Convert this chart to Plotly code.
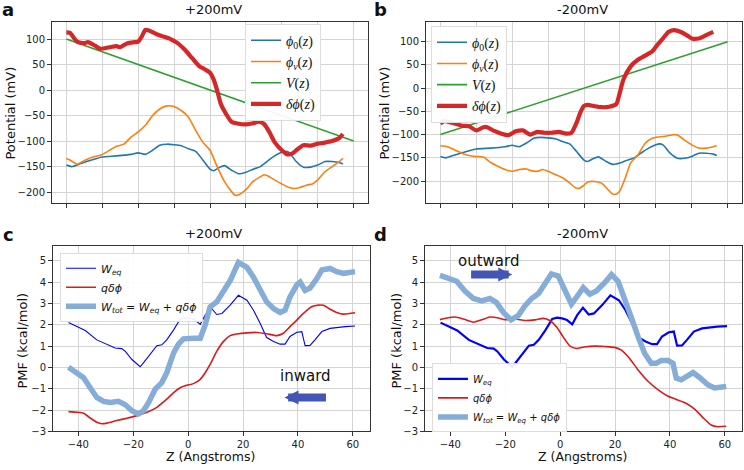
import plotly.graph_objects as go

# ---- panels a / b : potentials (mV) vs grid position ----
x_phi0 = [0, 1.5, 4, 7, 10, 14, 18, 20, 22, 24, 26, 28, 30, 32, 34, 36, 38, 40, 41, 42.5, 44, 46, 48, 50,
          52, 54, 56, 58, 60, 61, 62, 64, 66, 68, 70, 72, 74, 76, 77]
phi0 = [-147, -150, -144, -137, -131, -129, -126, -123, -126, -118, -108, -106, -107, -109, -115, -120, -137,
        -155, -158, -152, -148, -157, -164, -161, -155, -150, -139, -129, -122, -120, -122, -140, -151, -151,
        -147, -140, -140, -142, -145]

x_phiv_a = [0, 1, 3, 5, 7, 10, 12, 14, 16, 18, 20, 22, 24, 26, 28, 30, 32, 34, 36, 38, 40, 42, 44, 46, 47,
            48, 50, 52, 54, 55, 56, 58, 60, 62, 63.5, 65, 67, 68.5, 70, 72, 74, 76, 77]
phiv_a = [-134, -137, -145, -138, -132, -126, -118, -110, -106, -92, -82, -69, -50, -37, -31, -32, -40, -53,
          -79, -102, -118, -150, -179, -199, -206, -205, -195, -179, -170, -166, -168, -176, -184, -191, -193,
          -191, -186, -184, -176, -160, -150, -140, -134]

x_v = [0, 80]
v_a = [100, -100]
v_b = [-100, 100]

x_dphi_a = [0, 1, 3, 5, 6, 8, 9.5, 12, 14, 15, 17, 19, 20, 21, 22, 23, 25, 27, 29, 31, 33, 35, 37, 38.5, 40,
            41, 42, 43, 44.5, 46, 48, 50, 52, 53.5, 55, 56.5, 58, 60, 61.5, 63, 64, 66, 68, 70, 72, 74, 76, 77]
dphi_a = [113, 112, 95, 92, 94, 87, 81, 84, 86, 84, 92, 94, 95, 105, 118, 117, 110, 105, 100, 92, 79, 63, 47,
          41, 34, 21, -1, -27, -47, -62, -66, -67, -65, -62, -66, -82, -102, -118, -126, -124, -118, -108,
          -109, -105, -103, -100, -94, -86]

x_phiv_b = [0, 2, 4, 6, 8, 10, 12, 14, 16, 18, 20, 22, 24, 25, 27, 28.5, 30, 32, 34, 36, 37.5, 38.5, 40, 41,
            43, 45, 46.5, 48, 49, 50, 51.5, 53, 55, 57, 59, 61, 63, 65, 66, 68, 70, 72, 74, 76, 77]
phiv_b = [-124, -126, -133, -140, -145, -147, -148, -160, -168, -175, -179, -175, -174, -177, -179, -175, -179,
          -186, -193, -204, -214, -216, -209, -202, -201, -205, -217, -228, -228, -221, -193, -161, -144, -119,
          -108, -105, -103, -100, -101, -112, -122, -129, -129, -126, -124]

x_dphi_b = [0, 1, 2, 4, 6, 8, 10, 12, 13, 15, 17, 19, 21, 23, 25, 27, 29, 31, 33, 35, 36.5, 38, 39, 40, 41,
            43, 45, 47, 49, 50, 51, 53, 55, 57, 59, 60, 62, 63.5, 65, 67, 69, 70, 72, 74, 76]
dphi_b = [-76, -71, -72, -76, -81, -82, -91, -84, -84, -92, -98, -101, -93, -91, -100, -94, -96, -96, -94,
          -98, -96, -73, -52, -38, -36, -39, -41, -40, -34, -9, 19, 47, 61, 70, 79, 89, 107, 121, 125, 121,
          112, 107, 107, 114, 121]

# ---- panels c / d : PMF (kcal/mol) vs Z (Angstroms) ----
z_weq = [-43.6, -40.5, -37.5, -33.3, -29.6, -26.6, -24.2, -22.9, -20.5, -18.7, -17.5, -16.3, -13.8, -11.4,
         -9.6, -7.8, -5.3, -2.9, -1.1, 0.7, 2.5, 4.4, 6.2, 8.3, 10.4, 12.3, 15.3, 18.3, 21.4, 23.8, 26.2,
         28.6, 31.1, 33.5, 35.3, 37.1, 39.6, 41.4, 42.6, 44.4, 46.2, 48.7, 51.7, 54.1, 57.2, 60.8]
w_eq = [2.10, 1.91, 1.73, 1.29, 1.06, 0.91, 0.88, 0.75, 0.37, 0.14, 0.03, 0.21, 0.60, 1.02, 1.06, 1.29, 1.76,
        2.27, 2.33, 2.30, 2.22, 2.02, 2.45, 2.80, 2.48, 2.53, 2.92, 3.38, 3.15, 2.68, 2.07, 1.40, 1.22, 1.09,
        1.09, 1.45, 1.65, 1.68, 1.02, 1.03, 1.29, 1.68, 1.83, 1.88, 1.91, 1.94]

z_qdphi_c = [-43.6, -40.5, -38.1, -35.7, -33.3, -31.4, -29.6, -26.0, -22.3, -18.7, -15.0, -11.4, -7.8, -5.3,
             -2.9, -0.5, 1.9, 4.4, 6.2, 8.0, 10.4, 12.9, 15.3, 18.3, 21.4, 25.0, 28.6, 32.3, 34.7, 37.1, 39.6,
             42.0, 45.0, 47.5, 49.3, 51.7, 54.1, 56.6, 60.8]
qdphi_c = [-2.07, -2.10, -2.15, -2.37, -2.57, -2.64, -2.61, -2.49, -2.38, -2.26, -2.10, -1.87, -1.49, -1.18,
           -0.95, -0.84, -0.76, -0.56, -0.25, 0.14, 0.75, 1.22, 1.49, 1.58, 1.62, 1.64, 1.58, 1.49, 1.60, 1.91,
           2.22, 2.53, 2.84, 2.92, 2.91, 2.73, 2.58, 2.50, 2.56]

z_wtot_c = [-43.6, -40.5, -38.1, -35.7, -33.3, -30.8, -28.4, -25.4, -22.9, -20.5, -18.1, -16.3, -14.4, -12.0,
            -9.6, -7.8, -5.3, -3.5, -1.7, 1.9, 4.4, 6.2, 8.0, 10.4, 12.9, 15.3, 18.3, 21.4, 23.8, 26.2, 28.6,
            31.1, 33.5, 35.3, 37.1, 39.6, 40.8, 42.6, 44.4, 46.8, 48.7, 51.7, 54.1, 56.6, 60.8]
wtot_c = [0.01, -0.25, -0.48, -0.95, -1.41, -1.59, -1.64, -1.59, -1.75, -2.03, -2.18, -2.03, -1.64, -1.02,
          -0.71, -0.25, 0.68, 1.09, 1.34, 1.37, 1.37, 1.99, 2.84, 3.07, 3.53, 4.07, 4.92, 4.69, 4.23, 3.69, 3.07,
          2.76, 2.58, 2.68, 3.30, 3.87, 4.00, 3.61, 3.72, 4.15, 4.57, 4.64, 4.49, 4.41, 4.49]

z_qdphi_d = [-43.8, -41.3, -38.3, -35.3, -31.6, -28.6, -25.6, -22.5, -20.1, -16.5, -12.8, -9.2, -6.2, -3.8,
             -1.3, 1.1, 3.5, 5.9, 8.8, 12.6, 16.2, 19.9, 22.3, 25.3, 28.4, 32.0, 35.6, 39.3, 42.3, 46.0, 49.0,
             52.0, 55.0, 57.5, 60.5]
qdphi_d = [2.24, 2.32, 2.36, 2.27, 2.12, 2.23, 2.36, 2.32, 2.24, 2.27, 2.20, 2.23, 2.30, 2.20, 1.89, 1.43,
           1.01, 0.89, 0.96, 1.00, 0.98, 0.94, 0.81, 0.42, -0.12, -0.65, -1.04, -1.35, -1.50, -1.69, -1.96,
           -2.35, -2.70, -2.78, -2.76]

z_wtot_d = [-43.8, -40.7, -37.7, -34.7, -31.6, -28.6, -25.6, -23.2, -20.7, -17.9, -15.3, -12.8, -10.4, -7.9,
            -5.6, -3.2, -0.7, 1.7, 4.1, 6.3, 8.4, 10.8, 13.2, 16.2, 18.7, 21.1, 23.5, 25.9, 28.4, 30.8, 33.2,
            35.0, 36.8, 39.3, 41.1, 42.3, 44.1, 45.9, 48.4, 50.8, 53.8, 56.2, 60.5]
wtot_d = [4.31, 4.20, 4.04, 3.58, 3.23, 3.12, 3.23, 3.04, 2.58, 2.23, 2.43, 2.89, 3.23, 3.46, 3.97, 4.38, 4.28,
          3.58, 2.97, 3.35, 3.74, 3.43, 3.58, 3.97, 4.35, 4.04, 3.27, 2.35, 1.43, 0.65, 0.19, 0.19, 0.32, 0.32,
          0.19, -0.50, -0.58, -0.42, -0.24, -0.47, -0.81, -0.96, -0.89]

C_BLUE, C_ORANGE, C_GREEN, C_RED = "#1f77b4", "#ff7f0e", "#2ca02c", "#d62728"
W_BLUE, W_RED, W_LIGHT = "#0000ff", "#dd1a1a", "#86acd8"
ARROW = "#4356b5"

SERIF = "Liberation Serif"
SANS = "DejaVu Sans"

fig = go.Figure()


def line(x, y, name, color, width, xa, ya, legend, shape="spline"):
    fig.add_trace(go.Scatter(x=x, y=y, name=name, mode="lines", xaxis=xa, yaxis=ya, legend=legend,
                             line=dict(color=color, width=width, shape=shape, smoothing=0.6)))


# a
line(x_phi0, phi0, "<i>ϕ</i><sub>0</sub>(<i>z</i>)", C_BLUE, 1.6, "x", "y", "legend")
line(x_phiv_a, phiv_a, "<i>ϕ<sub>v</sub></i>(<i>z</i>)", C_ORANGE, 1.6, "x", "y", "legend")
line(x_v, v_a, "<i>V</i>(<i>z</i>)", C_GREEN, 1.6, "x", "y", "legend", "linear")
line(x_dphi_a, dphi_a, "<i>δϕ</i>(<i>z</i>)", C_RED, 4.2, "x", "y", "legend")
# b
line(x_phi0, phi0, "<i>ϕ</i><sub>0</sub>(<i>z</i>)", C_BLUE, 1.6, "x2", "y2", "legend2")
line(x_phiv_b, phiv_b, "<i>ϕ<sub>v</sub></i>(<i>z</i>)", C_ORANGE, 1.6, "x2", "y2", "legend2")
line(x_v, v_b, "<i>V</i>(<i>z</i>)", C_GREEN, 1.6, "x2", "y2", "legend2", "linear")
line(x_dphi_b, dphi_b, "<i>δϕ</i>(<i>z</i>)", C_RED, 4.2, "x2", "y2", "legend2")

N_WEQ = "<i>W<sub>eq</sub></i>"
N_Q = "<i>qδϕ</i>"
N_TOT = "<i>W<sub>tot</sub></i> = <i>W<sub>eq</sub></i> + <i>qδϕ</i>"
# c
line(z_weq, w_eq, N_WEQ, W_BLUE, 1.1, "x3", "y3", "legend3", "linear")
line(z_qdphi_c, qdphi_c, N_Q, W_RED, 1.6, "x3", "y3", "legend3", "spline")
line(z_wtot_c, wtot_c, N_TOT, W_LIGHT, 5.5, "x3", "y3", "legend3", "linear")
# d
line(z_weq, w_eq, N_WEQ, W_BLUE, 2.2, "x4", "y4", "legend4", "linear")
line(z_qdphi_d, qdphi_d, N_Q, W_RED, 1.6, "x4", "y4", "legend4", "spline")
line(z_wtot_d, wtot_d, N_TOT, W_LIGHT, 5.5, "x4", "y4", "legend4", "linear")

W, H = 744, 470


def px(v):
    return v / W


def py(v):
    return 1 - v / H


axis_style = dict(showline=True, linecolor="#333", linewidth=1, mirror=True, ticks="outside", ticklen=4,
                  tickcolor="#333", showgrid=True, gridcolor="#d4d4d4", gridwidth=1, zeroline=False,
                  tickfont=dict(family=SANS, size=10, color="#222"))

fig.update_layout(
    width=W, height=H, margin=dict(l=0, r=0, t=0, b=0),
    paper_bgcolor="white", plot_bgcolor="white", showlegend=True,
    xaxis=dict(domain=[px(52), px(368)], range=[-4, 84], dtick=10, showticklabels=False, anchor="y", **axis_style),
    yaxis=dict(domain=[py(206), py(22)], range=[-222, 134], tickvals=[-200, -150, -100, -50, 0, 50, 100],
               anchor="x", **axis_style),
    xaxis2=dict(domain=[px(426), px(742)], range=[-4, 84], dtick=10, showticklabels=False, anchor="y2",
                **axis_style),
    yaxis2=dict(domain=[py(206), py(22)], range=[-248, 143], tickvals=[-200, -150, -100, -50, 0, 50, 100],
                anchor="x2", **axis_style),
    xaxis3=dict(domain=[px(53), px(370)], range=[-49.25, 66.25], tickvals=[-40, -20, 0, 20, 40, 60],
                anchor="y3", **axis_style),
    yaxis3=dict(domain=[py(437), py(249)], range=[-3, 5.7], dtick=1, anchor="x3", **axis_style),
    xaxis4=dict(domain=[px(425), px(742)], range=[-49.25, 66.25], tickvals=[-40, -20, 0, 20, 40, 60],
                anchor="y4", **axis_style),
    yaxis4=dict(domain=[py(437), py(249)], range=[-3, 5.7], dtick=1, anchor="x4", **axis_style),
)

leg_base = dict(bgcolor="rgba(255,255,255,0.92)", bordercolor="#dddddd", borderwidth=1, tracegroupgap=0,
                itemwidth=30, xanchor="left")
fig.update_layout(
    legend=dict(x=px(245), y=py(24), yanchor="top", font=dict(family=SERIF, size=14, color="#111"), **leg_base),
    legend2=dict(x=px(431), y=py(26), yanchor="top", font=dict(family=SERIF, size=14, color="#111"), **leg_base),
    legend3=dict(x=px(60), y=py(256), yanchor="top", font=dict(family=SANS, size=11, color="#111"), **leg_base),
    legend4=dict(x=px(432), y=py(438), yanchor="bottom", font=dict(family=SANS, size=10, color="#111"),
                 **leg_base),
)

notes = []


def text(x, y, s, size=13, bold=False, angle=0):
    notes.append(dict(x=px(x), y=py(y), xref="paper", yref="paper", text=f"<b>{s}</b>" if bold else s,
                      showarrow=False, textangle=angle, xanchor="center", yanchor="middle",
                      font=dict(family=SANS, size=size, color="#111")))


text(213, 10, "+200mV")
text(582, 10, "-200mV")
text(213, 237, "+200mV")
text(582, 237, "-200mV")
text(8, 10, "a", 18, True)
text(380, 10, "b", 18, True)
text(8, 238, "c", 18, True)
text(380, 238, "d", 18, True)
text(11, 115, "Potential (mV)", 13, angle=-90)
text(385, 115, "Potential (mV)", 13, angle=-90)
text(23, 345, "PMF (kcal/mol)", 13, angle=-90)
text(397, 345, "PMF (kcal/mol)", 13, angle=-90)
text(210, 462, "Z (Angstroms)", 12.5)
text(582, 462, "Z (Angstroms)", 12.5)

# direction labels and arrows
notes.append(dict(x=42.6, y=-0.40, xref="x3", yref="y3", text="inward", showarrow=False,
                  font=dict(family=SANS, size=15, color="#111")))
notes.append(dict(x=35.1, y=-1.41, ax=50.75, ay=-1.41, xref="x3", yref="y3", axref="x3", ayref="y3",
                  text="", showarrow=True, arrowhead=2, arrowsize=0.35, arrowwidth=8, arrowcolor=ARROW))
notes.append(dict(x=-26.2, y=4.97, xref="x4", yref="y4", text="outward", showarrow=False,
                  font=dict(family=SANS, size=15, color="#111")))
notes.append(dict(x=-17.45, y=4.35, ax=-33.0, ay=4.35, xref="x4", yref="y4", axref="x4", ayref="y4",
                  text="", showarrow=True, arrowhead=2, arrowsize=0.35, arrowwidth=8, arrowcolor=ARROW))

fig.update_layout(annotations=notes)
# the page body has a default 8px margin; drop it so the figure fills the window exactly
fig.write_html("out.html", config={"displayModeBar": False},
               post_script="document.body.style.margin='0';")
